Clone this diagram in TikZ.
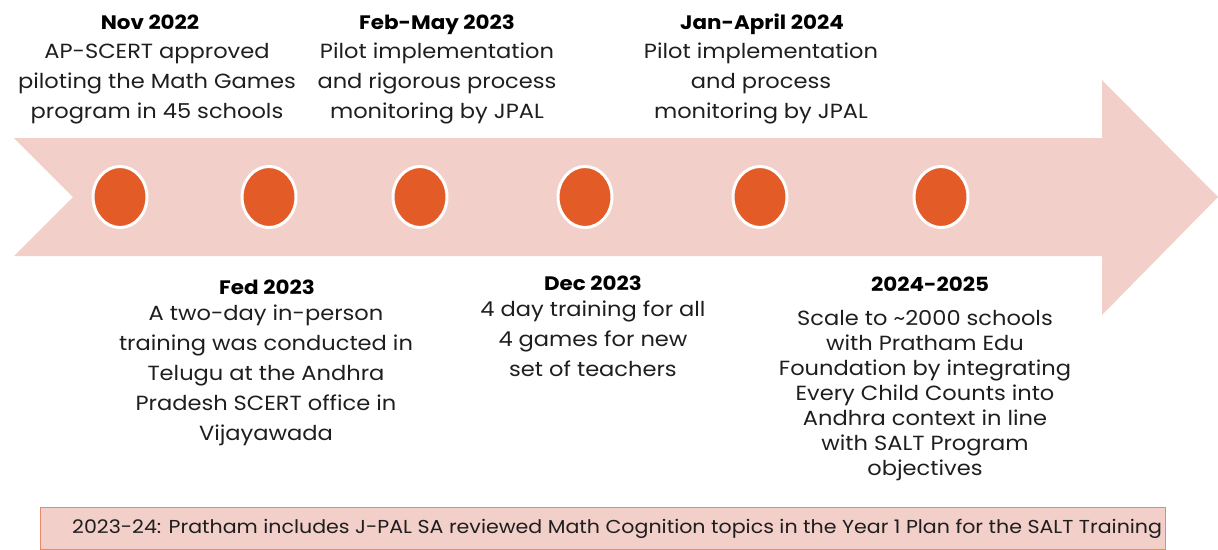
\documentclass[tikz,border=0pt]{standalone}
\usepackage{fontspec}
\setmainfont{Poppins}[FakeStretch=1.1]
\usetikzlibrary{shapes.geometric}
\definecolor{bandpink}{HTML}{F2CFC9}
\definecolor{dotorange}{HTML}{E35B26}
\definecolor{bannerline}{HTML}{E8896A}
\definecolor{inkgray}{HTML}{1E1E1E}
\begin{document}
\begin{tikzpicture}[x=1pt,y=-1pt,
  dot/.style={ellipse,fill=dotorange,draw=white,line width=3pt,minimum width=54pt,minimum height=61pt,inner sep=0pt},
  datehead/.style={anchor=base,inner sep=0pt,font=\fontsize{19.5}{24}\selectfont\bfseries,text=black},
  eventtext/.style={anchor=north,inner sep=0pt,align=center,font=\fontsize{20.5}{30}\selectfont,text=inkgray},
  eventtextsmall/.style={eventtext,font=\fontsize{20.5}{25}\selectfont},
  bannerbox/.style={draw=bannerline,line width=1.2pt,fill=bandpink,minimum width=1125pt,minimum height=42pt,inner sep=0pt}
]
\useasboundingbox (0,0) rectangle (1218,549);

% timeline band with arrow head and notched tail
\fill[bandpink] (14,138) -- (1102,138) -- (1102,80) -- (1218,197) -- (1102,315)
  -- (1102,256) -- (14,256) -- (73,197) -- cycle;

% milestones on the band
\node[dot] (m1) at (120,197) {};
\node[dot] (m2) at (269,197) {};
\node[dot] (m3) at (420,197) {};
\node[dot] (m4) at (585,197) {};
\node[dot] (m5) at (760,197) {};
\node[dot] (m6) at (941,197) {};

% events above the band
\node[datehead] (h1) at (150,29) {Nov 2022};
\node[eventtext] (t1) at (157,43) {AP-SCERT approved\\piloting the Math Games\\program in 45 schools};
\node[datehead] (h3) at (437,29) {Feb-May 2023};
\node[eventtext] (t3) at (437,43) {Pilot implementation\\and rigorous process\\monitoring by JPAL};
\node[datehead] (h5) at (762,29) {Jan-April 2024};
\node[eventtext] (t5) at (761,43) {Pilot implementation\\and process\\monitoring by JPAL};

% events below the band
\node[datehead] (h2) at (267,294) {Fed 2023};
\node[eventtext] (t2) at (266,305) {A two-day in-person\\training was conducted in\\Telugu at the Andhra\\Pradesh SCERT office in\\Vijayawada};
\node[datehead] (h4) at (593,290) {Dec 2023};
\node[eventtext] (t4) at (593,301) {4 day training for all\\4 games for new\\set of teachers};
\node[datehead] (h6) at (930,291) {2024-2025};
\node[eventtextsmall] (t6) at (925,310) {Scale to \textasciitilde2000 schools\\with Pratham Edu\\Foundation by integrating\\Every Child Counts into\\Andhra context in line\\with SALT Program\\objectives};

% plan banner along the bottom
\node[bannerbox,anchor=north west] (plan) at (40,507) {};
\node[anchor=base west,inner sep=0pt,font=\fontsize{18.7}{20}\selectfont,text=inkgray] (plantext) at (72,533)
  {2023-24: Pratham includes J-PAL SA reviewed Math Cognition topics in the Year 1 Plan for the SALT Training};
\end{tikzpicture}
\end{document}
